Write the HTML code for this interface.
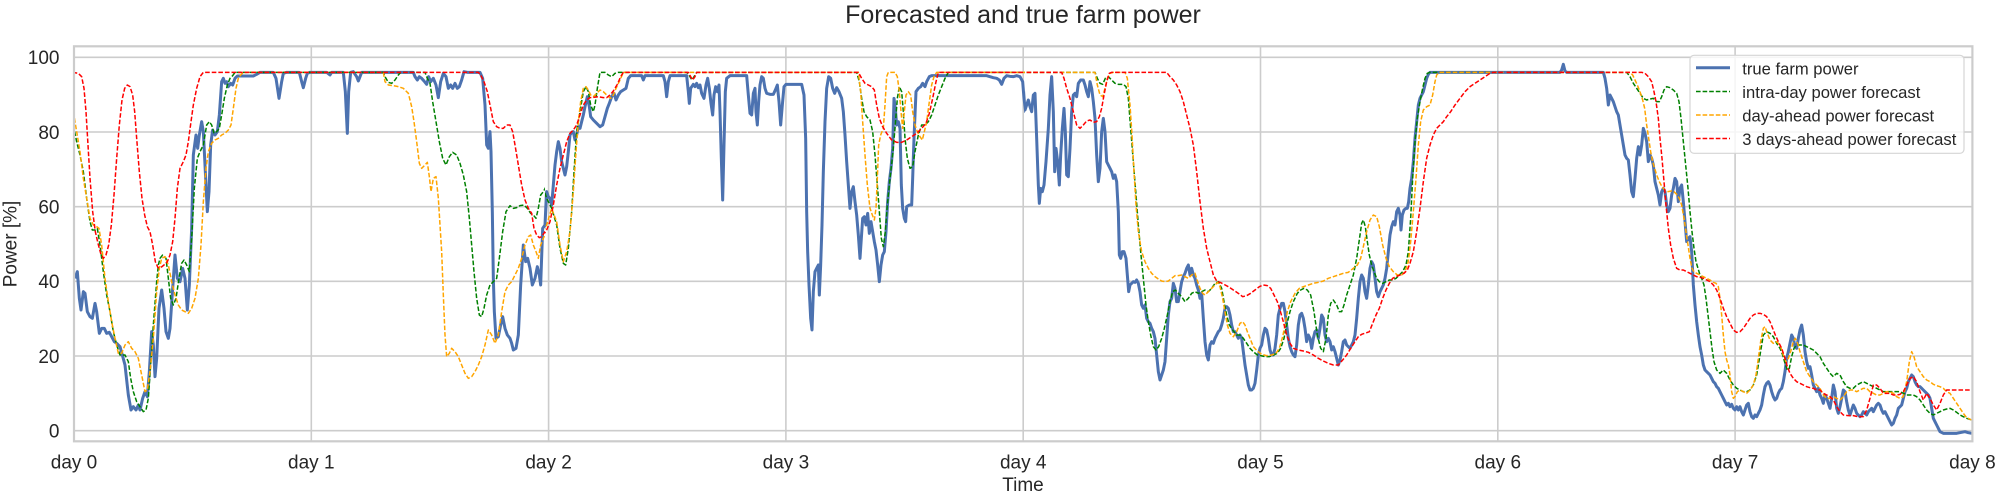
<!DOCTYPE html>
<html>
<head>
<meta charset="utf-8">
<style>
  html, body { margin:0; padding:0; background:#ffffff; }
  svg { display:block; }
  text { font-family: "Liberation Sans", Arial, sans-serif; fill:#262626; }
</style>
</head>
<body>
<svg width="2000" height="496" viewBox="0 0 2000 496" xmlns="http://www.w3.org/2000/svg">
  <defs>
    <clipPath id="c1" clipPathUnits="userSpaceOnUse"><rect x="74" y="46.3" width="471" height="395"/></clipPath>
    <clipPath id="c2" clipPathUnits="userSpaceOnUse"><rect x="545" y="46.3" width="480" height="395"/></clipPath>
    <clipPath id="c3" clipPathUnits="userSpaceOnUse"><rect x="1025" y="46.3" width="480" height="395"/></clipPath>
    <clipPath id="c4" clipPathUnits="userSpaceOnUse"><rect x="1505" y="46.3" width="467.4" height="395"/></clipPath>
  </defs>

  <!-- title -->
  <text x="1023" y="23" font-size="25" text-anchor="middle">Forecasted and true farm power</text>

  <!-- grid -->
  <g stroke="#cccccc" stroke-width="1.6" fill="none">
    <line x1="74" y1="430.7" x2="1972.4" y2="430.7"/>
    <line x1="74" y1="356.0" x2="1972.4" y2="356.0"/>
    <line x1="74" y1="281.3" x2="1972.4" y2="281.3"/>
    <line x1="74" y1="206.7" x2="1972.4" y2="206.7"/>
    <line x1="74" y1="132.0" x2="1972.4" y2="132.0"/>
    <line x1="74" y1="57.3" x2="1972.4" y2="57.3"/>
    <line x1="311.3" y1="46.3" x2="311.3" y2="441.3"/>
    <line x1="548.6" y1="46.3" x2="548.6" y2="441.3"/>
    <line x1="785.9" y1="46.3" x2="785.9" y2="441.3"/>
    <line x1="1023.2" y1="46.3" x2="1023.2" y2="441.3"/>
    <line x1="1260.5" y1="46.3" x2="1260.5" y2="441.3"/>
    <line x1="1497.8" y1="46.3" x2="1497.8" y2="441.3"/>
    <line x1="1735.1" y1="46.3" x2="1735.1" y2="441.3"/>
  </g>

  <!-- segment 1 -->
  <g clip-path="url(#c1)">
   <g transform="translate(60,45) scale(0.333333)" fill="none" stroke-linejoin="round">
    <polyline stroke="#4c72b0" stroke-width="9" points="45,700 52,680 58,760 63,795 70,740 75,745 82,800 90,815 97,820 105,775 110,800 118,865 125,850 133,850 140,865 148,862 155,875 163,890 170,895 180,905 187,930 195,960 205,1050 213,1095 220,1085 228,1095 235,1080 240,1095 248,1060 255,1040 262,1055 268,980 275,860 280,900 285,995 290,940 297,790 305,735 312,790 318,860 325,880 330,850 337,745 345,630 352,700 360,710 368,670 375,700 382,795 388,720 395,550 400,330 408,270 413,310 418,270 425,230 430,260 437,400 442,500 447,440 452,300 458,255 465,270 472,260 478,210 485,110 490,100 495,115 500,110 505,125 512,115 518,120 525,100 532,93 545,93 560,93 580,93 590,88 600,82 640,82 648,100 657,160 665,110 670,85 680,82 718,82 725,110 730,128 737,100 742,85 750,82 800,82 810,90 815,82 850,82 856,140 862,265 866,140 872,82 880,80 890,95 895,108 900,95 905,82 1060,82 1065,95 1072,105 1078,95 1085,100 1092,108 1100,118 1106,95 1112,110 1120,100 1128,120 1135,158 1142,110 1150,85 1158,95 1165,130 1172,120 1178,130 1185,115 1192,130 1198,125 1205,105 1212,80 1222,82 1260,82 1268,100 1275,180 1280,300 1285,310 1290,260 1293,320 1297,500 1300,700 1303,800 1308,880 1315,875 1322,840 1328,815 1335,850 1342,870 1350,880 1355,895 1360,915 1368,910 1375,870 1382,720 1390,600 1397,650 1403,640 1410,670 1417,720 1425,700 1432,665 1438,690 1442,720 1448,550 1455,540 1460,430 1467,460 1475,455"/>
    <polyline stroke="#008000" stroke-width="4.5" stroke-dasharray="13.8 6" points="40,240 50,290 60,330 70,380 80,460 90,530 97,555 105,555 112,550 120,600 130,680 140,750 150,800 160,860 170,900 180,930 195,930 205,950 212,1000 220,1040 230,1070 240,1085 250,1100 258,1095 265,1060 272,960 280,840 290,710 295,660 300,640 308,630 318,640 325,700 332,760 340,780 348,760 357,700 365,655 372,645 380,660 388,680 395,580 403,430 412,340 420,320 430,300 440,240 448,230 455,240 462,265 470,260 478,250 485,210 493,160 502,120 510,100 518,92 525,82 970,82 975,95 985,112 995,115 1005,105 1015,90 1022,82 1095,82 1102,100 1110,115 1118,170 1128,230 1138,290 1148,340 1158,360 1168,335 1178,322 1190,330 1200,355 1210,390 1220,440 1228,520 1235,600 1242,680 1250,760 1258,810 1265,815 1272,790 1280,750 1290,720 1300,710 1310,700 1318,640 1328,560 1338,500 1350,482 1360,490 1370,488 1380,482 1392,480 1402,490 1412,505 1420,510 1428,520 1435,490 1442,450 1450,440 1458,425 1467,440 1475,450"/>
    <polyline stroke="#ffa500" stroke-width="4.5" stroke-dasharray="13.8 6" points="40,200 50,260 60,320 70,400 80,460 90,520 100,540 110,545 117,550 125,600 135,700 145,770 155,830 165,880 175,925 185,925 195,900 205,890 215,910 225,920 235,940 245,990 255,1040 262,1035 270,980 280,880 290,740 298,670 305,640 315,635 325,660 335,710 345,750 355,780 365,795 375,800 385,805 395,790 405,760 415,700 423,600 430,470 438,370 445,320 455,295 465,285 475,280 485,270 495,265 505,255 513,240 520,190 528,130 535,100 542,90 550,82 970,82 975,110 985,120 1000,122 1015,125 1030,130 1045,145 1055,185 1062,230 1070,290 1078,355 1085,370 1095,360 1102,352 1108,395 1113,440 1120,400 1128,395 1135,460 1140,540 1145,620 1150,750 1155,870 1160,935 1168,925 1175,910 1185,920 1195,935 1205,960 1215,985 1225,1000 1235,995 1245,980 1255,960 1265,935 1275,900 1285,855 1295,870 1305,895 1315,870 1325,800 1335,740 1345,720 1355,710 1365,690 1375,670 1385,640 1395,600 1405,575 1412,570 1420,600 1428,620 1435,640 1442,600 1450,580 1460,560 1467,545 1475,540"/>
    <polyline stroke="#ff0000" stroke-width="4.5" stroke-dasharray="13.8 6" points="38,82 55,85 65,95 72,130 78,200 84,300 90,400 98,500 106,560 114,595 122,625 130,640 138,630 146,600 154,540 162,450 170,340 178,240 186,165 194,130 202,120 210,125 218,150 224,200 230,280 238,380 246,460 254,510 262,545 270,560 278,600 286,650 294,668 302,668 312,660 322,650 330,630 338,590 345,520 352,430 360,370 370,350 378,330 385,290 393,230 400,180 410,130 420,95 430,82 1255,82 1262,90 1272,110 1282,140 1292,190 1300,230 1310,245 1320,250 1330,250 1340,240 1350,240 1358,260 1365,300 1375,360 1385,420 1395,465 1405,490 1415,505 1422,550 1430,570 1438,578 1445,575 1455,560 1467,555 1475,550"/>
   </g>
  </g>

  <!-- segment 2 -->
  <g clip-path="url(#c2)">
   <g transform="translate(540,45) scale(0.333333)" fill="none" stroke-linejoin="round">
    <polyline stroke="#4c72b0" stroke-width="9" points="0,720 5,580 10,550 15,540 20,440 25,455 30,460 35,480 40,420 45,360 50,320 55,290 60,310 65,350 70,370 75,390 80,365 85,320 90,270 95,262 100,260 105,285 110,270 115,245 120,250 125,230 130,210 135,185 142,155 148,185 152,215 160,225 170,235 180,245 188,240 195,215 202,190 208,175 215,155 222,145 228,165 235,150 242,140 250,135 258,130 265,100 272,92 305,92 310,105 315,92 370,92 375,110 380,155 385,110 390,92 440,92 445,140 448,175 452,130 460,118 465,125 470,115 475,128 480,120 485,145 492,160 498,120 503,100 508,130 513,175 518,210 522,150 527,125 532,140 537,120 540,200 544,340 548,465 552,300 556,140 560,100 570,92 620,92 625,150 630,205 635,210 640,145 645,130 648,200 652,240 656,170 660,120 665,95 670,100 675,130 680,145 690,148 700,148 706,135 712,120 717,170 722,240 727,180 732,125 738,118 785,118 792,150 797,280 800,500 803,620 807,720 812,820 816,855 820,740 825,680 830,670 835,660 838,750 842,660 846,540 850,380 855,230 860,130 866,95 872,100 878,130 884,145 890,128 897,140 905,160 910,200 915,270 920,350 925,420 930,490 935,440 940,425 945,470 950,510 955,570 960,640 964,580 968,520 973,515 978,540 983,505 988,565 993,530 998,560 1003,590 1008,615 1013,660 1018,710 1023,660 1028,630 1033,620 1038,560 1043,470 1048,410 1053,370 1058,310 1062,160 1066,190 1070,240 1075,230 1080,250 1084,420 1088,490 1093,520 1097,530 1100,485 1108,480 1115,480 1118,400 1122,280 1128,140 1135,130 1142,125 1148,115 1155,125 1160,110 1168,95 1175,92 1340,92 1350,95 1360,98 1370,100 1378,105 1385,118 1392,100 1400,92 1410,94 1420,95 1430,92 1440,95 1448,110 1452,160 1457,200 1462,170 1470,175 1480,180"/>
    <polyline stroke="#008000" stroke-width="4.5" stroke-dasharray="13.8 6" points="0,450 5,430 10,430 20,460 35,490 50,540 60,610 70,655 77,660 85,610 95,500 102,380 110,260 120,200 130,140 138,125 145,140 152,180 160,200 165,180 172,130 180,82 195,82 205,90 215,95 225,85 235,82 440,82 448,92 456,105 464,92 470,82 950,82 958,110 965,160 972,200 980,215 990,225 998,260 1005,330 1012,420 1018,500 1024,580 1030,605 1036,560 1042,480 1050,400 1058,330 1065,250 1072,160 1078,125 1085,140 1090,200 1095,280 1102,340 1110,370 1118,365 1125,320 1135,270 1145,240 1155,240 1165,230 1175,210 1185,180 1195,150 1205,125 1215,100 1225,82 1480,82"/>
    <polyline stroke="#ffa500" stroke-width="4.5" stroke-dasharray="13.8 6" points="0,600 10,560 20,540 35,490 50,530 60,600 70,650 80,620 90,560 100,440 108,320 115,230 122,170 130,130 138,125 145,135 152,150 160,155 170,145 180,135 190,140 200,150 212,160 220,150 228,130 240,105 250,82 955,82 962,140 968,230 975,330 982,420 990,490 997,510 1003,525 1008,490 1012,400 1016,300 1022,270 1030,250 1035,180 1040,95 1045,82 1065,82 1072,95 1078,140 1083,200 1088,250 1093,200 1098,150 1105,140 1112,150 1118,200 1125,240 1132,260 1140,275 1147,285 1153,260 1160,230 1168,170 1175,120 1182,95 1190,82 1480,82"/>
    <polyline stroke="#ff0000" stroke-width="4.5" stroke-dasharray="13.8 6" points="0,590 10,570 20,555 30,530 40,480 50,420 60,370 70,330 80,290 90,265 100,255 110,240 120,210 130,180 140,165 150,158 160,157 175,155 190,158 200,158 210,150 220,138 232,118 242,95 250,82 445,82 452,95 458,105 465,95 470,82 955,82 965,100 975,115 985,120 995,125 1003,135 1010,180 1018,220 1028,245 1040,265 1055,285 1070,292 1085,292 1100,285 1115,275 1130,265 1145,250 1158,235 1168,205 1178,160 1188,110 1195,82 1480,82"/>
   </g>
  </g>

  <!-- segment 3 -->
  <g clip-path="url(#c3)">
   <g transform="translate(1020,45) scale(0.333333)" fill="none" stroke-linejoin="round">
    <polyline stroke="#4c72b0" stroke-width="9" points="0,95 5,100 10,130 15,195 20,180 25,165 30,185 35,200 40,150 45,145 50,280 55,420 58,475 62,430 67,440 72,420 78,350 85,250 90,150 95,95 100,200 104,380 108,310 113,350 118,420 122,330 127,250 132,190 136,260 140,390 145,395 150,310 155,200 160,150 165,145 170,155 175,115 182,105 190,105 195,120 200,140 205,155 210,110 215,130 220,170 225,220 230,330 235,410 240,370 245,260 250,220 255,260 260,350 265,360 270,370 275,380 280,400 285,390 290,410 295,500 298,630 302,640 307,620 312,620 318,640 322,690 326,740 330,720 335,715 340,710 345,712 350,705 355,715 360,740 365,780 370,790 375,780 380,820 385,830 390,835 395,850 400,860 405,880 410,930 415,980 420,1005 425,990 430,975 435,950 440,880 445,810 450,770 455,760 460,715 465,730 470,770 475,770 480,740 485,710 490,695 495,685 500,670 505,660 510,690 515,670 520,690 525,700 530,720 535,735 540,760 545,745 550,820 555,890 560,930 565,945 570,900 575,890 580,895 585,880 590,870 595,860 600,855 605,840 610,820 615,790 620,785 625,790 630,810 635,840 640,860 645,860 650,870 655,880 660,870 665,880 670,920 675,960 680,990 685,1020 690,1035 695,1035 700,1030 705,1015 710,975 715,930 720,910 725,900 730,870 735,850 740,855 745,880 750,915 755,930 760,930 765,910 770,870 775,810 780,790 785,775 790,775 795,800 800,840 805,880 810,905 815,920 820,930 825,935 830,900 835,840 840,810 845,805 850,820 855,850 860,890 865,870 870,880 875,910 880,880 885,860 890,855 895,880 900,850 905,810 910,820 915,870 920,890 925,880 930,890 935,915 940,905 945,920 950,940 955,960 960,945 965,920 970,890 975,885 980,900 985,905 990,910 995,900 1000,890 1005,870 1010,820 1015,760 1020,710 1025,690 1030,700 1035,740 1040,760 1045,720 1050,670 1055,650 1060,660 1065,700 1070,740 1075,755 1080,740 1085,730 1090,720 1095,700 1100,670 1105,620 1110,570 1115,545 1120,530 1125,540 1130,500 1135,490 1140,510 1143,555 1147,510 1152,495 1158,490 1162,490 1166,470 1170,430 1175,400 1180,350 1185,280 1190,230 1195,180 1200,160 1205,150 1210,140 1215,120 1220,100 1225,88 1230,82 1480,82"/>
    <polyline stroke="#008000" stroke-width="4.5" stroke-dasharray="13.8 6" points="0,82 225,82 232,100 240,115 248,118 256,100 265,95 275,105 285,115 295,118 310,118 318,125 325,160 332,250 340,350 348,450 355,540 362,620 370,700 378,780 385,830 392,870 400,905 408,915 416,905 425,880 433,850 442,810 450,770 458,740 466,735 475,745 485,755 495,770 505,760 515,745 525,740 535,745 545,740 555,735 565,740 575,730 585,715 595,710 605,730 612,770 620,810 628,840 638,855 650,870 660,870 670,880 680,895 690,910 700,920 712,930 722,932 735,935 748,935 760,930 772,925 782,910 792,880 800,840 810,800 820,770 832,745 842,735 852,730 862,735 872,750 882,800 892,870 902,910 910,920 918,880 925,810 932,775 940,765 950,780 958,800 965,800 972,780 980,750 990,720 1000,690 1010,640 1020,570 1025,535 1030,525 1036,545 1042,590 1048,630 1055,660 1062,680 1070,700 1078,710 1088,715 1098,710 1108,705 1118,705 1128,700 1138,690 1148,680 1158,660 1165,620 1172,520 1178,400 1185,290 1192,220 1200,170 1208,130 1215,100 1222,85 1230,82 1480,82"/>
    <polyline stroke="#ffa500" stroke-width="4.5" stroke-dasharray="13.8 6" points="0,82 225,82 232,120 240,150 248,155 255,130 262,100 270,85 280,82 315,82 322,100 330,180 336,270 342,380 348,480 355,560 365,620 375,650 385,670 395,685 405,695 415,702 425,708 435,710 445,708 455,700 465,692 475,692 485,690 495,695 505,700 515,690 525,685 533,710 540,730 548,745 555,750 565,740 575,730 585,720 593,712 600,725 608,760 615,800 622,840 630,865 640,875 650,860 660,835 668,830 675,840 682,860 690,880 700,905 712,918 725,928 740,932 755,930 768,925 778,910 788,875 795,840 802,800 812,770 825,745 838,730 850,725 865,720 880,715 895,712 910,708 925,700 940,695 955,690 970,685 985,682 1000,670 1012,660 1022,640 1030,605 1040,560 1050,525 1060,510 1070,515 1078,545 1088,600 1098,640 1108,665 1120,680 1132,690 1145,690 1155,680 1165,650 1172,590 1180,500 1188,400 1195,300 1202,230 1210,195 1220,185 1230,180 1238,150 1245,110 1250,90 1258,82 1480,82"/>
    <polyline stroke="#ff0000" stroke-width="4.5" stroke-dasharray="13.8 6" points="0,82 125,82 132,100 140,130 150,160 160,200 170,240 180,250 190,240 200,228 210,225 220,232 230,230 238,215 245,190 252,150 260,110 268,85 275,82 440,82 450,95 460,105 470,120 480,140 490,170 500,210 510,250 520,300 530,380 540,470 550,550 560,610 570,650 580,690 590,708 600,712 612,718 625,725 640,735 655,745 668,755 680,752 692,745 705,735 718,725 730,720 742,722 752,730 762,750 772,770 780,795 790,830 800,870 810,895 820,910 835,915 850,918 865,922 880,930 895,940 910,948 925,955 940,960 955,960 968,945 980,930 992,910 1005,890 1015,875 1025,868 1040,863 1048,860 1058,835 1068,810 1078,790 1088,760 1098,735 1108,715 1118,700 1128,695 1140,690 1152,685 1162,675 1170,655 1180,620 1190,560 1200,490 1210,410 1220,340 1230,300 1240,270 1250,250 1260,240 1270,230 1280,215 1292,200 1305,180 1320,160 1335,140 1350,125 1365,115 1380,105 1395,95 1410,85 1420,82 1480,82"/>
   </g>
  </g>

  <!-- segment 4 -->
  <g clip-path="url(#c4)">
   <g transform="translate(1500,45) scale(0.333333)" fill="none" stroke-linejoin="round">
    <polyline stroke="#4c72b0" stroke-width="9" points="0,82 180,82 185,75 190,58 195,78 200,82 310,82 315,100 320,130 325,180 330,150 335,160 340,170 345,185 350,200 355,210 360,240 365,270 370,300 375,330 380,340 385,345 390,390 395,440 400,455 405,400 410,340 415,305 420,330 425,300 430,250 435,265 440,290 445,350 450,330 455,340 460,360 465,410 470,430 475,450 480,480 485,440 490,430 495,440 500,480 505,500 510,490 515,450 520,430 525,400 530,410 535,470 540,430 545,420 550,470 555,530 560,590 565,580 570,575 575,620 580,720 585,780 590,830 595,870 600,905 605,930 610,960 615,975 620,980 625,985 630,990 635,1000 640,1010 645,1015 650,1025 655,1030 660,1040 665,1050 670,1060 675,1070 680,1080 685,1075 690,1085 695,1078 700,1090 705,1095 710,1085 715,1095 720,1085 725,1100 730,1110 735,1095 740,1080 745,1075 750,1100 755,1115 760,1120 765,1110 770,1115 775,1105 780,1095 785,1080 790,1050 795,1025 800,1015 805,1010 810,1020 815,1040 820,1055 825,1065 830,1060 835,1045 840,1035 845,1030 850,1010 855,980 860,940 865,920 870,895 875,870 880,880 885,905 890,910 895,880 900,855 905,840 910,870 915,920 920,950 925,970 930,965 935,990 940,1020 945,1030 950,1040 955,1030 960,1050 965,1060 970,1075 975,1050 980,1060 985,1075 990,1090 995,1060 1000,1020 1005,1040 1010,1090 1015,1105 1020,1085 1025,1060 1030,1035 1035,1040 1040,1070 1045,1095 1050,1110 1055,1095 1060,1080 1065,1090 1070,1105 1075,1110 1080,1115 1085,1110 1090,1100 1095,1105 1100,1110 1105,1100 1110,1095 1115,1090 1120,1100 1125,1090 1130,1080 1135,1075 1140,1080 1145,1095 1150,1105 1155,1100 1160,1110 1165,1120 1170,1130 1175,1140 1180,1135 1185,1120 1190,1110 1195,1090 1200,1085 1205,1080 1210,1060 1215,1040 1220,1030 1225,1010 1230,1000 1235,990 1240,995 1245,1010 1250,1020 1255,1025 1260,1025 1265,1030 1270,1035 1275,1040 1280,1045 1285,1050 1290,1060 1295,1090 1300,1120 1305,1130 1310,1140 1315,1150 1320,1160 1330,1165 1350,1165 1370,1165 1385,1162 1395,1160 1405,1163 1415,1165"/>
    <polyline stroke="#008000" stroke-width="4.5" stroke-dasharray="13.8 6" points="0,82 380,82 390,95 400,115 410,130 420,145 430,160 440,165 450,162 460,160 470,170 478,170 485,155 492,135 500,125 510,128 520,135 530,145 537,170 543,220 550,290 557,360 564,430 570,500 576,560 582,610 588,650 594,670 600,690 605,700 612,720 618,760 624,810 630,860 636,910 642,950 650,975 660,985 670,975 680,985 690,1005 700,1020 710,1030 720,1035 730,1040 740,1040 750,1035 760,1020 770,990 780,930 790,870 800,860 810,865 820,875 830,895 840,910 848,930 855,955 862,975 868,970 875,935 882,910 890,900 900,900 910,900 920,905 930,910 940,915 950,925 960,935 970,955 980,970 990,985 1000,995 1010,985 1020,990 1030,1010 1040,1025 1050,1030 1060,1030 1070,1020 1080,1015 1090,1010 1100,1015 1110,1020 1120,1025 1130,1030 1140,1035 1150,1040 1160,1040 1170,1040 1180,1040 1190,1040 1200,1040 1210,1045 1220,1050 1230,1050 1240,1050 1250,1055 1260,1065 1270,1080 1280,1095 1290,1105 1300,1110 1310,1105 1320,1100 1330,1095 1340,1092 1350,1090 1360,1095 1370,1102 1380,1110 1390,1115 1400,1120 1415,1125"/>
    <polyline stroke="#ffa500" stroke-width="4.5" stroke-dasharray="13.8 6" points="0,82 390,82 398,90 405,105 412,120 420,140 428,165 434,190 440,240 446,280 452,320 458,350 464,370 470,390 478,410 486,425 494,435 504,440 514,438 522,440 530,448 538,460 545,480 552,520 558,560 564,600 570,640 576,670 582,680 590,685 600,690 610,695 620,700 630,705 640,712 648,715 655,725 660,760 665,810 670,870 675,920 680,945 685,960 690,990 695,1040 700,1060 705,1055 712,1040 720,1035 730,1040 740,1045 750,1035 760,1020 768,990 775,940 782,890 790,850 795,845 800,860 810,885 820,895 830,890 840,900 850,930 858,950 865,940 872,920 880,890 886,880 893,895 900,920 910,950 920,980 930,995 940,1010 950,1020 960,1030 970,1050 980,1060 990,1060 1000,1055 1010,1060 1020,1065 1030,1055 1040,1040 1050,1035 1060,1035 1070,1040 1080,1035 1090,1030 1100,1030 1110,1040 1120,1045 1130,1050 1140,1050 1150,1045 1160,1040 1170,1040 1180,1045 1190,1055 1200,1060 1210,1055 1220,1010 1228,950 1235,920 1242,935 1250,965 1260,980 1270,995 1280,1005 1290,1010 1300,1018 1310,1022 1320,1025 1330,1030 1340,1040 1350,1045 1360,1060 1370,1075 1380,1090 1390,1105 1400,1118 1415,1125"/>
    <polyline stroke="#ff0000" stroke-width="4.5" stroke-dasharray="13.8 6" points="0,82 425,82 435,85 445,95 455,110 462,140 468,170 475,220 480,280 486,340 492,410 498,480 505,550 512,600 520,640 530,670 540,675 550,675 560,680 570,685 580,690 590,695 600,697 610,700 620,705 630,710 640,720 650,735 660,760 670,790 680,815 690,835 700,855 710,862 720,860 730,850 740,835 750,820 760,810 770,805 780,805 790,808 800,815 810,830 818,850 826,870 835,890 845,910 855,940 862,965 870,985 880,1000 890,1010 900,1015 910,1020 920,1025 930,1028 940,1030 950,1035 960,1035 970,1045 980,1050 990,1055 1000,1065 1010,1085 1020,1100 1030,1110 1045,1112 1060,1112 1075,1115 1090,1115 1100,1095 1110,1060 1120,1020 1130,1020 1140,1030 1150,1045 1160,1045 1170,1045 1180,1050 1190,1050 1200,1048 1210,1040 1220,1020 1230,1000 1240,995 1250,1010 1260,1040 1270,1065 1280,1045 1290,1060 1300,1080 1310,1095 1320,1075 1330,1050 1340,1035 1360,1035 1380,1035 1400,1035 1415,1035"/>
   </g>
  </g>

  <!-- spines -->
  <rect x="74" y="46.3" width="1898.4" height="395" fill="none" stroke="#cccccc" stroke-width="2.2"/>

  <!-- y tick labels -->
  <g font-size="19" text-anchor="end">
    <text x="59.5" y="437.5">0</text>
    <text x="59.5" y="362.8">20</text>
    <text x="59.5" y="288.1">40</text>
    <text x="59.5" y="213.5">60</text>
    <text x="59.5" y="138.8">80</text>
    <text x="59.5" y="64.1">100</text>
  </g>

  <!-- x tick labels -->
  <g font-size="19" text-anchor="middle">
    <text x="74" y="468.5">day 0</text>
    <text x="311.3" y="468.5">day 1</text>
    <text x="548.6" y="468.5">day 2</text>
    <text x="785.9" y="468.5">day 3</text>
    <text x="1023.2" y="468.5">day 4</text>
    <text x="1260.5" y="468.5">day 5</text>
    <text x="1497.8" y="468.5">day 6</text>
    <text x="1735.1" y="468.5">day 7</text>
    <text x="1972.4" y="468.5">day 8</text>
  </g>

  <!-- axis labels -->
  <text x="1023" y="491" font-size="19" text-anchor="middle">Time</text>
  <text transform="translate(16.7,244) rotate(-90)" font-size="19" text-anchor="middle">Power [%]</text>

  <!-- legend -->
  <rect x="1690" y="55.3" width="274" height="98" rx="4" ry="4" fill="#ffffff" fill-opacity="0.8" stroke="#d5d5d5" stroke-width="1.2"/>
  <line x1="1696" y1="67.7" x2="1730" y2="67.7" stroke="#4c72b0" stroke-width="3"/>
  <line x1="1696" y1="91.5" x2="1730" y2="91.5" stroke="#008000" stroke-width="1.5" stroke-dasharray="4.6 2"/>
  <line x1="1696" y1="115" x2="1730" y2="115" stroke="#ffa500" stroke-width="1.5" stroke-dasharray="4.6 2"/>
  <line x1="1696" y1="138.5" x2="1730" y2="138.5" stroke="#ff0000" stroke-width="1.5" stroke-dasharray="4.6 2"/>
  <g font-size="16.6">
    <text x="1742.3" y="74.3">true farm power</text>
    <text x="1742.3" y="98">intra-day power forecast</text>
    <text x="1742.3" y="121.5">day-ahead power forecast</text>
    <text x="1742.3" y="145">3 days-ahead power forecast</text>
  </g>
</svg>
</body>
</html>
